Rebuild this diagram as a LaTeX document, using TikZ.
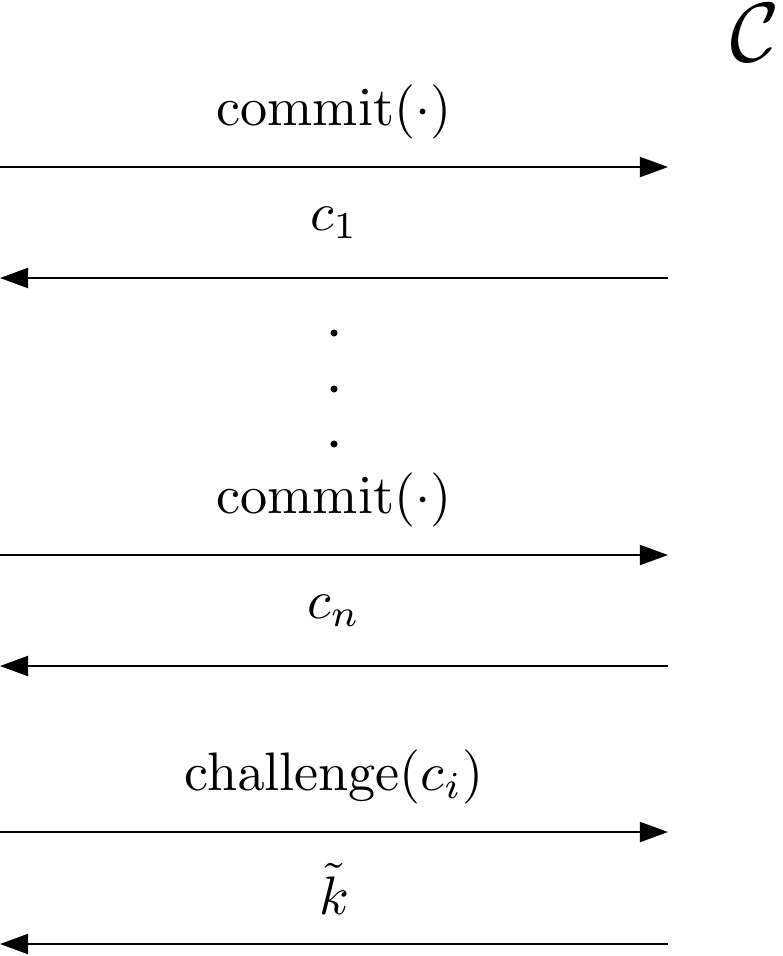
\documentclass[tikz,border=0pt]{standalone}
\usetikzlibrary{arrows.meta}
\begin{document}
\begin{tikzpicture}[x=0.1845pt,y=-0.1845pt,
  msg/.style={-{Triangle[length=5.2pt,width=3.7pt]}, line width=0.42pt},
  lbl/.style={inner sep=0pt},
  dotnode/.style={circle,fill,inner sep=0pt,minimum size=1.3pt}]
\useasboundingbox (0,0) rectangle (782,956);
\node[lbl,scale=1.55] (C) at (755,33) {$\mathcal{C}$};
% endpoints
\coordinate (a1L) at (0,167);   \coordinate (a1R) at (668,167);
\coordinate (a2L) at (0,278);   \coordinate (a2R) at (668,278);
\coordinate (a3L) at (0,555);   \coordinate (a3R) at (668,555);
\coordinate (a4L) at (0,666);   \coordinate (a4R) at (668,666);
\coordinate (a5L) at (0,832);   \coordinate (a5R) at (668,832);
\coordinate (a6L) at (0,944);   \coordinate (a6R) at (668,944);
% arrows
\draw[msg] (a1L) -- (a1R);
\draw[msg] (a2R) -- (a2L);
\draw[msg] (a3L) -- (a3R);
\draw[msg] (a4R) -- (a4L);
\draw[msg] (a5L) -- (a5R);
\draw[msg] (a6R) -- (a6L);
% labels
\node[lbl] (t1) at (334,112) {$\mathrm{commit}(\cdot)$};
\node[lbl] (t2) at (334,223) {$c_1$};
\node[lbl] (t3) at (334,500) {$\mathrm{commit}(\cdot)$};
\node[lbl] (t4) at (334,611) {$c_n$};
\node[lbl] (t5) at (334,777) {$\mathrm{challenge}(c_i)$};
\node[lbl] (t6) at (334,889) {$\tilde{k}$};
% dots
\node[dotnode] (d1) at (334,333) {};
\node[dotnode] (d2) at (334,389) {};
\node[dotnode] (d3) at (334,444) {};
\end{tikzpicture}
\end{document}
